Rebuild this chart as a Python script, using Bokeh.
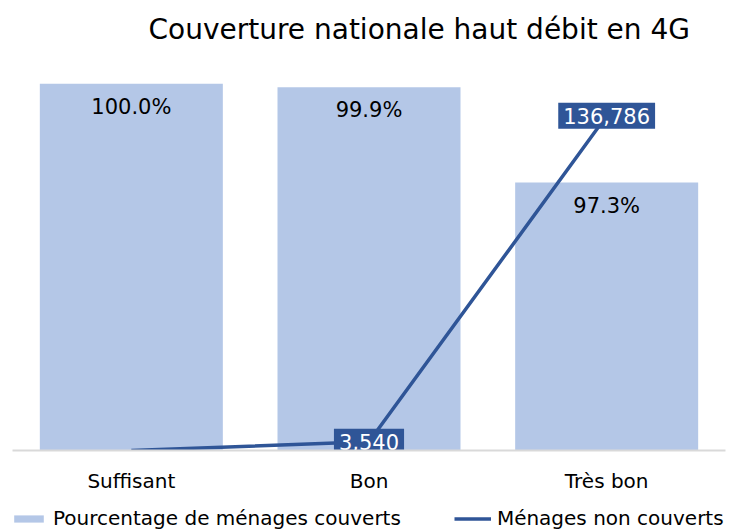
from bokeh.plotting import figure
from bokeh.layouts import column
from bokeh.models import Range1d, FactorRange, Legend, LegendItem, ColumnDataSource
from bokeh.core.properties import value
from bokeh.embed import file_html
from bokeh.resources import INLINE

categories = ["Suffisant", "Bon", "Très bon"]
pct_covered = [100.0, 99.9, 97.3]
households_uncovered = [0, 3540, 136786]
title_text = "Couverture nationale haut débit en 4G"
bar_name = "Pourcentage de ménages couverts"
line_name = "Ménages non couverts"

FONT = "DejaVu Sans"
BAR_COLOR = "#B4C7E7"
LINE_COLOR = "#2F5597"

p = figure(width=737, height=500, x_range=FactorRange(factors=categories, range_padding=0),
           y_range=Range1d(90, 100), output_backend="svg", toolbar_location=None,
           min_border_left=12, min_border_right=12, min_border_top=83, min_border_bottom=50)
p.extra_y_ranges = {"sec": Range1d(0, 150000)}
p.outline_line_color = None
p.background_fill_color = "white"
p.border_fill_color = "white"
p.xgrid.visible = False
p.ygrid.visible = False
p.yaxis.visible = False

# second (blank) line lifts the title away from the plot area
p.title.text = title_text + "\n "
p.title.align = "left"
p.title.offset = 136
p.title.standoff = 9
p.title.text_font = FONT
p.title.text_font_size = "28px"
p.title.text_font_style = "normal"
p.title.text_color = "#000000"

src = ColumnDataSource(dict(cat=categories, pct=pct_covered,
                            lbl=[f"{v:.1f}%" for v in pct_covered]))
p.vbar(x="cat", top="pct", bottom=90, width=0.77, source=src,
       fill_color=BAR_COLOR, line_color=None)
p.text(x="cat", y="pct", text="lbl", source=src, y_offset=23,
       text_align="center", text_baseline="middle", text_font=value(FONT),
       text_font_size="21px", text_color="#000000")

lsrc = ColumnDataSource(dict(cat=categories, v=households_uncovered))
p.line(x="cat", y="v", source=lsrc, y_range_name="sec",
       line_color=LINE_COLOR, line_width=3.5)

nz = [i for i, v in enumerate(households_uncovered) if v > 0]
tsrc = ColumnDataSource(dict(cat=[categories[i] for i in nz],
                             v=[households_uncovered[i] for i in nz],
                             lbl=[f"{households_uncovered[i]:,}" for i in nz]))
p.text(x="cat", y="v", text="lbl", source=tsrc, y_range_name="sec",
       text_align="center", text_baseline="middle", text_font=value(FONT),
       text_font_size="21px", text_color="white",
       background_fill_color=LINE_COLOR, padding=5)

ax = p.xaxis[0]
ax.axis_line_color = "#D9D9D9"
ax.axis_line_width = 2
ax.major_tick_line_color = None
ax.minor_tick_line_color = None
ax.major_tick_out = 0
ax.major_tick_in = 0
ax.minor_tick_out = 0
ax.minor_tick_in = 0
ax.major_label_standoff = 18
ax.major_label_text_font = FONT
ax.major_label_text_font_size = "20px"
ax.major_label_text_color = "#000000"

# legend strip below the chart (its swatch renderers sit outside the visible range)
lg = figure(width=737, height=30, output_backend="svg", toolbar_location=None,
            x_range=Range1d(0, 1), y_range=Range1d(0, 1),
            x_axis_type=None, y_axis_type=None, min_border=0,
            min_border_left=0, min_border_right=0, min_border_top=0, min_border_bottom=0)
lg.outline_line_color = None
lg.xgrid.visible = False
lg.ygrid.visible = False
swatch_src = ColumnDataSource(dict(x=[-5, -4], y=[-5, -5]))
r_bar = lg.vbar(x="x", top="y", bottom=-6, width=0.5, source=swatch_src,
                fill_color=BAR_COLOR, line_color=None)
r_line = lg.line(x="x", y="y", source=swatch_src, line_color=LINE_COLOR, line_width=3.5)

legend = Legend(items=[LegendItem(label=bar_name, renderers=[r_bar]),
                       LegendItem(label=line_name, renderers=[r_line])],
                orientation="horizontal", location=(-2, 0),
                label_text_font=FONT, label_text_font_size="20px",
                label_text_color="#000000", glyph_width=37, glyph_height=9,
                label_height=20, label_standoff=6, spacing=53, padding=0,
                margin=0, border_line_color=None, background_fill_alpha=0)
lg.add_layout(legend, "center")

layout = column(p, lg, spacing=0)
open("out.html", "w").write(file_html(layout, INLINE))
